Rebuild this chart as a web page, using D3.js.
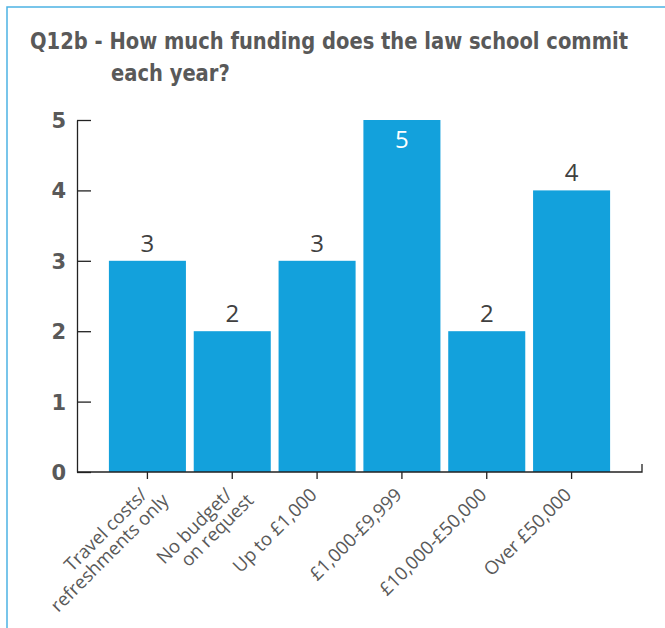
<!DOCTYPE html>
<html>
<head>
<meta charset="utf-8">
<script src="https://cdn.jsdelivr.net/npm/d3@7/dist/d3.min.js"></script>
<style>
  html, body { margin: 0; padding: 0; background: #fff; }
  svg { display: block; }
</style>
</head>
<body>
<script>
// Survey answers: number of law schools per annual funding band
const categories = [
  "Travel costs/\nrefreshments only",
  "No budget/\non request",
  "Up to £1,000",
  "£1,000-£9,999",
  "£10,000-£50,000",
  "Over £50,000"
];
const counts = [3, 2, 3, 5, 2, 4];
const yTicks = [0, 1, 2, 3, 4, 5];
const titleLines = [
  "Q12b - How much funding does the law school commit",
  "each year?"
];

const W = 665, H = 628;
const plot = { left: 77, right: 642, top: 120, bottom: 472 };
const barColor = "#13a1dc";
const textGray = "#595959";

const svg = d3.select("body").append("svg")
  .attr("width", W).attr("height", H);

// Frame: thin blue rule along the top and the left side
svg.append("path")
  .attr("d", `M7,${H} V7 H${W}`)
  .attr("fill", "none")
  .attr("stroke", "#4cb3e4")
  .attr("stroke-width", 1.5);

// Title, two lines, second line indented under the question text;
// the first line is fitted to span the frame width
const titleFont = "'DejaVu Sans Condensed', 'DejaVu Sans', sans-serif";
const titleSize = 22.5;
const title = svg.append("g")
  .attr("font-family", titleFont)
  .attr("font-weight", "bold")
  .attr("font-size", titleSize)
  .attr("fill", textGray);
const t1 = title.append("text").attr("x", 30).attr("y", 49).text(titleLines[0]);
const t2 = title.append("text").attr("x", 111).attr("y", 81).text(titleLines[1]);
const fit = 598 / t1.node().getComputedTextLength();
[t1, t2].forEach(t => {
  const w = t.node().getComputedTextLength();
  t.attr("textLength", w * fit).attr("lengthAdjust", "spacingAndGlyphs");
});

// Scales
const x = d3.scaleBand()
  .domain(categories)
  .range([105, 614])
  .paddingInner(0.092)
  .paddingOuter(0.046);

const y = d3.scaleLinear()
  .domain([0, d3.max(yTicks)])
  .range([plot.bottom, plot.top]);

// Bars
svg.append("g").selectAll("rect")
  .data(categories)
  .join("rect")
  .attr("x", d => x(d))
  .attr("width", x.bandwidth())
  .attr("y", (d, i) => y(counts[i]))
  .attr("height", (d, i) => y(0) - y(counts[i]))
  .attr("fill", barColor);

// Y axis: inward ticks, bold labels
const yAxis = svg.append("g")
  .attr("transform", `translate(${plot.left},0)`)
  .call(d3.axisLeft(y)
    .tickValues(yTicks)
    .tickFormat(d3.format("d"))
    .tickSizeInner(-14)
    .tickSizeOuter(0)
    .tickPadding(11));
yAxis.select(".domain").attr("stroke", "#222").attr("stroke-width", 1.3);
yAxis.selectAll(".tick line").attr("stroke", "#222").attr("stroke-width", 1.3);
yAxis.selectAll(".tick text")
  .attr("font-family", "'DejaVu Sans', sans-serif")
  .attr("font-weight", "bold")
  .attr("font-size", 21)
  .attr("fill", textGray)
  .attr("dy", "0.36em");

// X axis baseline running the full plot width, with a short upturn at the end
svg.append("path")
  .attr("d", `M${plot.left},${y(0)} H${plot.right} V${y(0) - 8}`)
  .attr("fill", "none")
  .attr("stroke", "#222")
  .attr("stroke-width", 1.3);

// X axis ticks at the band centres
const xAxis = svg.append("g")
  .attr("transform", `translate(0,${y(0)})`)
  .call(d3.axisBottom(x).tickSizeInner(7).tickSizeOuter(0).tickFormat(""));
xAxis.select(".domain").remove();
xAxis.selectAll(".tick line").attr("stroke", "#222").attr("stroke-width", 1.3);

// Rotated category labels, end-anchored below each tick
const labelFont = "'Open Sans', sans-serif";
const labelG = svg.append("g");
categories.forEach(cat => {
  const cx = x(cat) + x.bandwidth() / 2;
  cat.split("\n").forEach((line, li) => {
    labelG.append("text")
      .attr("transform", `translate(${cx + 1 + li * 21.5},${y(0) + 24 + li * 5.5}) rotate(-45)`)
      .attr("text-anchor", "end")
      .attr("font-family", labelFont)
      .attr("font-size", 18.5)
      .attr("fill", textGray)
      .text(line);
  });
});

// Value labels: above each bar, or inside in white when the bar reaches the top
const yMax = d3.max(yTicks);
svg.append("g").selectAll("text")
  .data(categories)
  .join("text")
  .attr("x", d => x(d) + x.bandwidth() / 2)
  .attr("y", (d, i) => counts[i] >= yMax ? y(counts[i]) + 28 : y(counts[i]) - 9)
  .attr("text-anchor", "middle")
  .attr("font-family", labelFont)
  .attr("font-size", 24)
  .attr("fill", (d, i) => counts[i] >= yMax ? "#ffffff" : "#404040")
  .text((d, i) => counts[i]);
</script>
</body>
</html>
